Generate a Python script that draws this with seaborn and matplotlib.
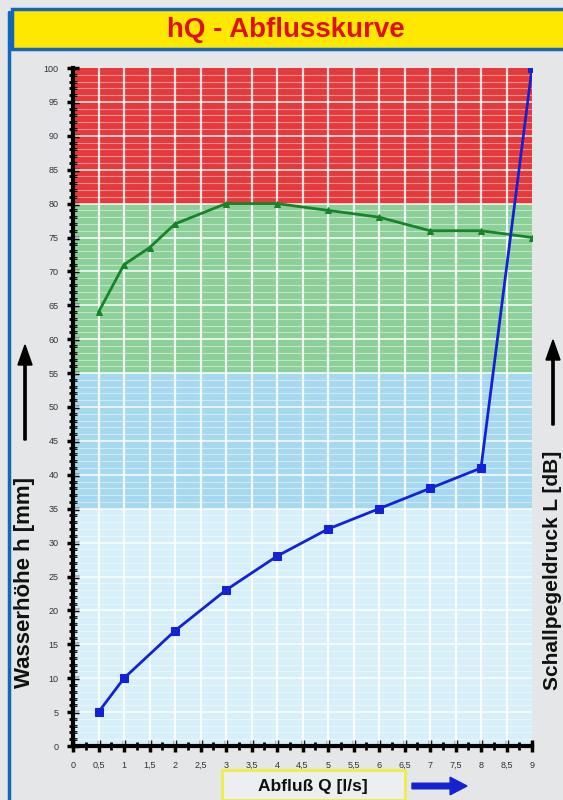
import numpy as np
import pandas as pd
import matplotlib
matplotlib.use("Agg")
import matplotlib.pyplot as plt
import seaborn as sns
from matplotlib.patches import Rectangle, FancyArrow
from matplotlib.lines import Line2D

# Abflusskurve (Wasserhoehe h) and Schallpegel L over Abfluss Q
q_h = [0.5, 1, 2, 3, 4, 5, 6, 7, 8, 9]
h_mm = [5, 10, 17, 23, 28, 32, 35, 38, 41, 100]

q_l = [0.5, 1, 1.5, 2, 3, 4, 5, 6, 7, 8, 9]
l_db = [64, 71, 73.5, 77, 80, 80, 79, 78, 76, 76, 75]

x_ticks = [i * 0.5 for i in range(19)]
x_labels = ["0", "0,5", "1", "1,5", "2", "2,5", "3", "3,5", "4", "4,5", "5",
            "5,5", "6", "6,5", "7", "7,5", "8", "8,5", "9"]
y_ticks = list(range(0, 101, 5))

# colour bands (from, to, colour)
bands = [(0, 35, "#d6eff8"), (35, 55, "#a6d9ef"), (55, 80, "#8ccf98"), (80, 100, "#e5393c")]

hq = pd.DataFrame({"Q": q_h, "h": h_mm})
lq = pd.DataFrame({"Q": q_l, "L": l_db})

sns.set_style("white")
plt.rcParams["font.family"] = ["Liberation Sans", "DejaVu Sans"]

fig = plt.figure(figsize=(5.63, 8), dpi=100, facecolor="#e5e6e7")
ax = fig.add_axes([73 / 563, 1 - 746 / 800, (532 - 73) / 563, (746 - 68) / 800])

for lo, hi, c in bands:
    ax.axhspan(lo, hi, color=c, zorder=0, lw=0)

# stripes / grid
for yy in range(1, 100):
    lw = 1.4 if yy % 5 == 0 else 0.8
    ax.axhline(yy, color="white", lw=lw, alpha=0.75 if yy % 5 == 0 else 0.45, zorder=1)
for xx in x_ticks[1:-1]:
    ax.axvline(xx, color="white", lw=1.6, alpha=0.85, zorder=1)

sns.lineplot(data=lq, x="Q", y="L", ax=ax, color="#17842a", lw=2,
             marker="^", markersize=4, markeredgecolor="#17842a", zorder=3)
sns.lineplot(data=hq, x="Q", y="h", ax=ax, color="#1422d6", lw=2,
             marker="s", markersize=6, markeredgecolor="#1422d6", zorder=4)

ax.set_xlim(0, 9)
ax.set_ylim(0, 100)
ax.set_xticks(x_ticks)
ax.set_xticklabels(x_labels)
ax.set_xticks(np.arange(0, 9.01, 0.25), minor=True)
ax.set_yticks(y_ticks)
ax.set_yticks(range(0, 101), minor=True)
ax.set_xlabel("")
ax.set_ylabel("")
ax.tick_params(axis="both", which="both", left=True, bottom=True)
ax.tick_params(axis="both", which="major", direction="inout", length=9, width=2.5,
               labelsize=6.5, labelcolor="#333333", color="black", pad=6)
ax.tick_params(axis="both", which="minor", direction="inout", length=6, width=2, color="black")
for s in ["top", "right"]:
    ax.spines[s].set_visible(False)
for s in ["left", "bottom"]:
    ax.spines[s].set_linewidth(3)
    ax.spines[s].set_color("black")
ax.set_facecolor("#e5e6e7")

# title bar
fig.patches.append(Rectangle((12 / 563, 1 - 49 / 800), 1.0, 40 / 800,
                             transform=fig.transFigure, facecolor="#ffe800",
                             edgecolor="#1566b8", lw=2.5, zorder=5))
fig.text(0.508, 1 - 30 / 800, "hQ - Abflusskurve", color="#e0101a", fontsize=20,
         fontweight="bold", ha="center", va="center", zorder=6)
fig.lines.append(Line2D([9 / 563, 9 / 563], [0, 1 - 12 / 800], transform=fig.transFigure,
                        color="#1566b8", lw=2.5))

# left axis label + arrow
fig.text(25 / 563, 1 - 583 / 800, "Wasserhöhe h [mm]", rotation=90, fontsize=16,
         fontweight="bold", ha="center", va="center", color="#111111")
fig.patches.append(FancyArrow(25 / 563, 1 - 440 / 800, 0, 95 / 800, width=0.004,
                              head_width=0.025, head_length=0.025, length_includes_head=True,
                              transform=fig.transFigure, color="black"))

# right axis label + arrow
fig.text(553 / 563, 1 - 570 / 800, "Schallpegeldruck L [dB]", rotation=90, fontsize=15,
         fontweight="bold", ha="center", va="center", color="#111111")
fig.patches.append(FancyArrow(553 / 563, 1 - 425 / 800, 0, 85 / 800, width=0.004,
                              head_width=0.025, head_length=0.025, length_includes_head=True,
                              transform=fig.transFigure, color="black"))

# bottom label box + blue arrow
fig.patches.append(Rectangle((222 / 563, 0), 183 / 563, 30 / 800, transform=fig.transFigure,
                             facecolor="#eceef0", edgecolor="#eeee44", lw=2))
fig.text(313 / 563, 14 / 800, "Abfluß Q [l/s]", fontsize=12.5, fontweight="bold",
         ha="center", va="center", color="#111111")
fig.patches.append(FancyArrow(412 / 563, 14 / 800, 55 / 563, 0, width=0.007,
                              head_width=0.022, head_length=0.03, length_includes_head=True,
                              transform=fig.transFigure, color="#1622d0"))

fig.savefig("out.png", dpi=100, facecolor=fig.get_facecolor())
